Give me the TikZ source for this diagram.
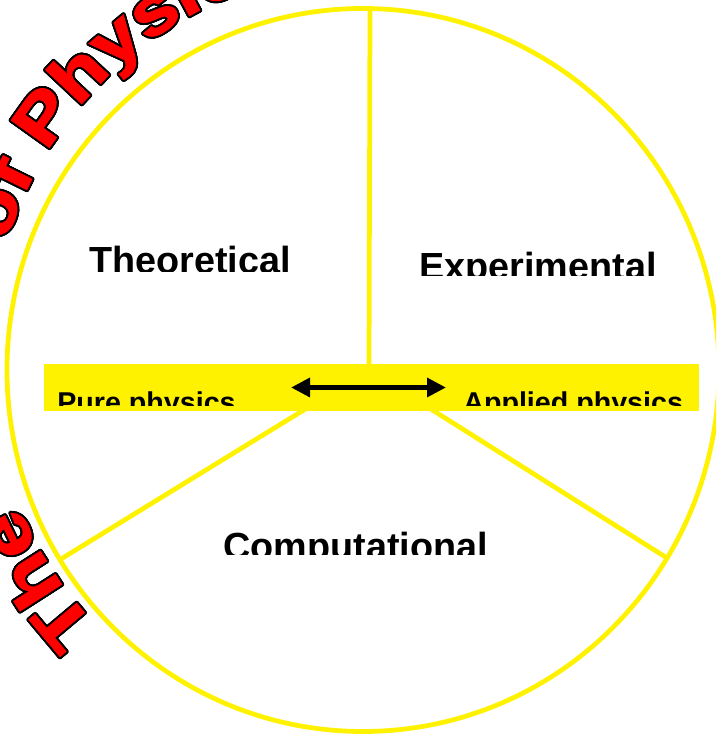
\documentclass[tikz,border=0pt]{standalone}
\usepackage{fontspec}
\setmainfont{Liberation Sans}
\newfontfamily\archfont[FakeStretch=1.2,FakeBold=2]{Liberation Sans}
\usepackage[copies]{contour}
\contourlength{1.1pt}
\contournumber{24}
\usetikzlibrary{arrows.meta,decorations.text}

\newcommand\archchar[1]{\contour{black}{#1}}

\begin{document}
\begin{tikzpicture}[x=0.02cm, y=0.02cm,
  yel/.style={draw=yellow, line width=2.7pt},
  lab/.style={font=\bfseries\fontsize{21.5}{24}\selectfont, inner sep=0pt, anchor=base west},
  sublab/.style={font=\bfseries\fontsize{16.3}{18}\selectfont, inner sep=0pt, anchor=base west},
  archtext/.style={decorate, decoration={text effects along path, text={#1},
    text effects/.cd, text along path,
    characters={font=\archfont\bfseries\fontsize{38.5}{40}\selectfont, text=red},
    character command=\archchar}}]
\useasboundingbox (0,0) rectangle (716,736);
\clip (0,0) rectangle (716,736);

% circle
\coordinate (ctr) at (363,366);
\draw[yel] (ctr) ellipse [x radius=356, y radius=361.5];

% spokes from the hub
\coordinate (hub) at (369,366);
\coordinate (top) at (370,727.4);
\coordinate (lft) at (61,177);
\coordinate (rgt) at (667,178);
\draw[yel] (hub) -- (top);
\draw[yel] (hub) -- (lft);
\draw[yel] (hub) -- (rgt);

% band
\fill[yellow] (44,325) rectangle (699,372);

% double arrow
\coordinate (arrL) at (291,348.5);
\coordinate (arrR) at (446,348.5);
\draw[line width=2.7pt, {Triangle[length=0.38cm,width=0.37cm]}-{Triangle[length=0.38cm,width=0.37cm]}] (arrL) -- (arrR);

% sector labels (cut at the bottom)
\begin{scope}
  \clip (0,464) rectangle (716,736);
  \node[lab] (theo) at (89,462) {Theoretical};
\end{scope}
\begin{scope}
  \clip (0,460) rectangle (716,736);
  \node[lab] (expt) at (419,456) {Experimental};
\end{scope}
\begin{scope}
  \clip (0,181) rectangle (716,736);
  \node[lab] (comp) at (223,176) {Computational};
\end{scope}
\begin{scope}
  \clip (0,330) rectangle (716,736);
  \node[sublab] (pure) at (57,323.4) {Pure physics};
  \node[sublab] (appl) at (463,323.4) {Applied physics};
\end{scope}

% arched title
\coordinate (archc) at (380,379);
\path[archtext=The] (archc) ++(223.6:391) arc[start angle=223.6, end angle=170, radius=391];
\path[archtext=of] (archc) ++(163:391) arc[start angle=163, end angle=130, radius=391];
\path[archtext=Physics] (archc) ++(148.4:391) arc[start angle=148.4, end angle=60, radius=391];
\end{tikzpicture}
\end{document}
